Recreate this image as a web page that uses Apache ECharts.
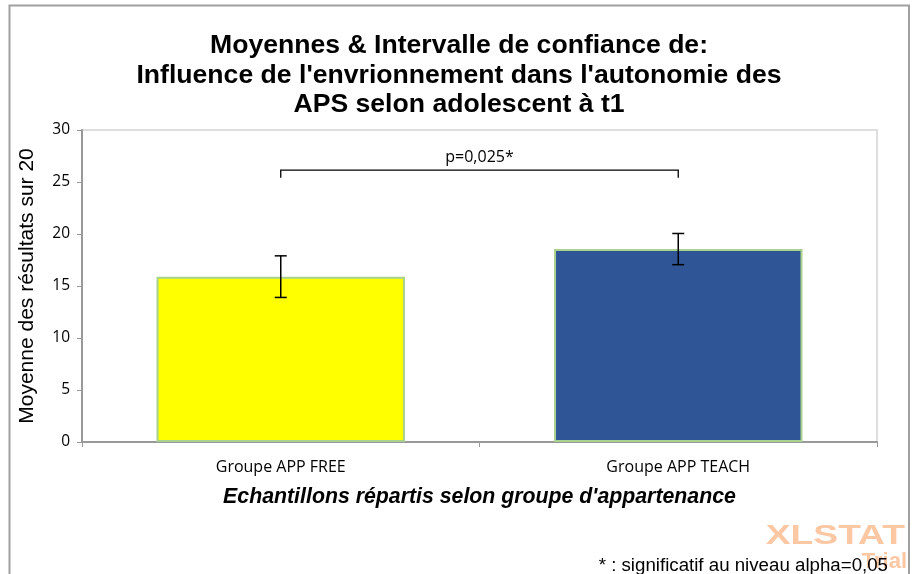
<!DOCTYPE html>
<html>
<head>
<meta charset="utf-8">
<script src="https://cdn.jsdelivr.net/npm/echarts@6/dist/echarts.min.js"></script>
<style>
  html, body { margin: 0; padding: 0; background: #ffffff; }
  #chart { width: 915px; height: 574px; }
</style>
</head>
<body>
<div id="chart"></div>
<script>
// Group means with their confidence interval bounds
const categories = ['Groupe APP FREE', 'Groupe APP TEACH'];
const means = [15.9, 18.55];
const ciLower = [13.9, 17.05];
const ciUpper = [17.9, 20.05];
const barColors = ['#ffff00', '#2f5597'];

// Significance bracket between the two groups
const bracketLevel = 26.15;
const bracketDrop = 25.4;
const bracketLabel = 'p=0,025*';

const yTicks = { min: 0, max: 30, interval: 5 };

const titleText = 'Moyennes & Intervalle de confiance de:\nInfluence de l\'envrionnement dans l\'autonomie des\nAPS selon adolescent à t1';

const chart = echarts.init(document.getElementById('chart'), null, { renderer: 'canvas' });

const labelFont = '"Open Sans", "Noto Sans", sans-serif';
const arial = '"Liberation Sans", Arial, sans-serif';

chart.setOption({
  animation: false,
  backgroundColor: '#ffffff',
  grid: {
    left: 82,
    right: 38,
    top: 130,
    bottom: 132,
    show: true,
    borderColor: '#d4d4d4',
    borderWidth: 1.5
  },
  xAxis: {
    type: 'category',
    data: categories,
    name: 'Echantillons répartis selon groupe d\'appartenance',
    nameLocation: 'middle',
    nameGap: 45,
    nameTextStyle: {
      fontFamily: arial,
      fontWeight: 'bold',
      fontStyle: 'italic',
      fontSize: 21.3,
      color: '#000000'
    },
    axisLine: { lineStyle: { color: '#999999', width: 2 } },
    axisTick: { show: true, length: 5, lineStyle: { color: '#999999', width: 1 } },
    axisLabel: {
      margin: 17,
      fontFamily: labelFont,
      fontSize: 16,
      color: '#000000'
    }
  },
  yAxis: {
    type: 'value',
    min: yTicks.min,
    max: yTicks.max,
    interval: yTicks.interval,
    name: 'Moyenne des résultats sur 20',
    nameLocation: 'middle',
    nameGap: 44,
    nameRotate: 90,
    nameTextStyle: {
      fontFamily: arial,
      fontSize: 21,
      color: '#000000'
    },
    axisLine: { show: true, lineStyle: { color: '#999999', width: 2 } },
    axisTick: { show: true, length: 5, lineStyle: { color: '#999999', width: 1 } },
    axisLabel: {
      margin: 12,
      fontFamily: labelFont,
      fontSize: 15.5,
      color: '#000000'
    },
    splitLine: { show: false }
  },
  series: [
    {
      type: 'bar',
      barWidth: '62.5%',
      data: means.map((v, i) => ({
        value: v,
        itemStyle: { color: barColors[i] }
      })),
      itemStyle: { borderColor: '#a9d18e', borderWidth: 2 },
      z: 2
    },
    {
      // Confidence interval whiskers
      type: 'custom',
      z: 5,
      data: categories.map((c, i) => [i, ciLower[i], ciUpper[i]]),
      renderItem: function (params, api) {
        const x = api.value(0);
        const lo = api.coord([x, api.value(1)]);
        const hi = api.coord([x, api.value(2)]);
        const half = 6;
        const style = { stroke: '#000000', lineWidth: 1.5 };
        return {
          type: 'group',
          children: [
            { type: 'line', shape: { x1: hi[0], y1: hi[1], x2: lo[0], y2: lo[1] }, style: style },
            { type: 'line', shape: { x1: hi[0] - half, y1: hi[1], x2: hi[0] + half, y2: hi[1] }, style: style },
            { type: 'line', shape: { x1: lo[0] - half, y1: lo[1], x2: lo[0] + half, y2: lo[1] }, style: style }
          ]
        };
      }
    },
    {
      // Bracket joining the two groups with the test result
      type: 'custom',
      z: 5,
      data: [[0, 1, bracketLevel, bracketDrop]],
      renderItem: function (params, api) {
        const a = api.coord([api.value(0), api.value(2)]);
        const b = api.coord([api.value(1), api.value(2)]);
        const aDrop = api.coord([api.value(0), api.value(3)]);
        const bDrop = api.coord([api.value(1), api.value(3)]);
        const style = { stroke: '#000000', lineWidth: 1.3, fill: null };
        return {
          type: 'group',
          children: [
            {
              type: 'polyline',
              shape: { points: [[aDrop[0], aDrop[1]], [a[0], a[1]], [b[0], b[1]], [bDrop[0], bDrop[1]]] },
              style: style
            },
            {
              type: 'text',
              style: {
                text: bracketLabel,
                x: (a[0] + b[0]) / 2,
                y: a[1] - 5,
                align: 'center',
                verticalAlign: 'bottom',
                font: '16px ' + labelFont,
                fill: '#000000'
              }
            }
          ]
        };
      }
    }
  ],
  graphic: [
    {
      // Outer frame
      type: 'rect',
      shape: { x: 9.5, y: 5.5, width: 899.5, height: 600 },
      style: { fill: null, stroke: '#a0a0a0', lineWidth: 2 },
      silent: true,
      z: 0
    },
    {
      // Chart title
      type: 'text',
      x: 459,
      y: 31,
      style: {
        text: titleText,
        x: 0,
        y: 0,
        align: 'center',
        verticalAlign: 'top',
        lineHeight: 29.5,
        font: 'bold 26.6px ' + arial,
        fill: '#000000'
      },
      z: 3
    },
    {
      // Trial watermark
      type: 'text',
      x: 905,
      y: 522,
      scaleX: 1.33,
      originX: 0,
      style: {
        text: 'XLSTAT',
        x: 0,
        y: 0,
        align: 'right',
        verticalAlign: 'top',
        font: 'bold 28px ' + arial,
        fill: '#fcc7a3'
      },
      z: 1
    },
    {
      type: 'text',
      x: 907,
      y: 551,
      style: {
        text: 'Trial',
        x: 0,
        y: 0,
        align: 'right',
        verticalAlign: 'top',
        font: 'bold 22px ' + arial,
        fill: '#fcc7a3'
      },
      z: 1
    },
    {
      type: 'text',
      x: 888,
      y: 556,
      style: {
        text: '* : significatif au niveau alpha=0,05',
        x: 0,
        y: 0,
        align: 'right',
        verticalAlign: 'top',
        font: '18.7px ' + arial,
        fill: '#000000'
      },
      z: 2
    }
  ]
});
</script>
</body>
</html>
